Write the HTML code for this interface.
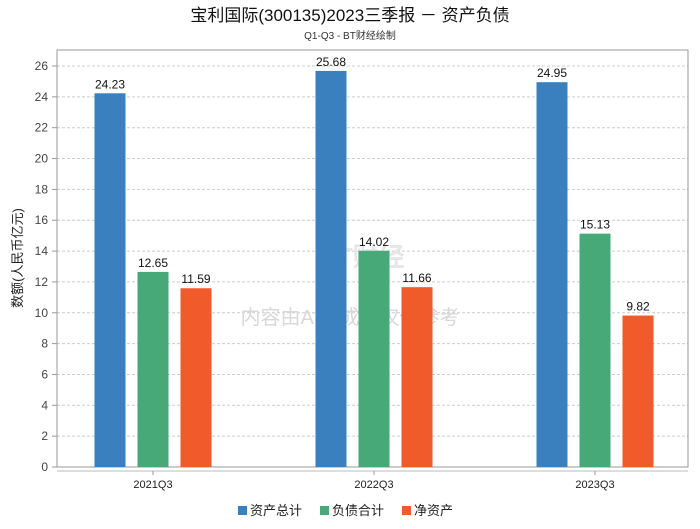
<!DOCTYPE html>
<html><head><meta charset="utf-8"><style>
body{margin:0;background:#fff;font-family:"Liberation Sans","Noto Sans CJK SC",sans-serif;}
svg text{font-family:"Liberation Sans","Noto Sans CJK SC",sans-serif;}
</style></head><body>
<svg id="c" width="700" height="524" xmlns="http://www.w3.org/2000/svg">
<text x="350" y="21" font-size="17" text-anchor="middle" fill="#111">宝利国际(300135)2023三季报 － 资产负债</text>
<text x="350" y="39" font-size="10" text-anchor="middle" fill="#333">Q1-Q3 - BT财经绘制</text>
<g id="grid"></g>
<rect x="57" y="50" width="631" height="417" fill="none" stroke="#999"/>
<line x1="57" y1="471" x2="688" y2="471" stroke="#bbb"/>
<text x="350" y="324" font-size="20" text-anchor="middle" fill="#d8d8d8">内容由AI生成，仅供参考</text>
<text x="318" y="266" font-size="26" fill="#e6e6e6" font-weight="bold">BT财经</text>
<g id="bars"></g>
<text transform="translate(22,258) rotate(-90)" font-size="13" text-anchor="middle" fill="#222">数额(人民币亿元)</text>
<g>
<rect x="238" y="506" width="9" height="9" fill="#3a80bf"/>
<text x="250" y="515" font-size="13" fill="#222">资产总计</text>
<rect x="320" y="506" width="9" height="9" fill="#46a977"/>
<text x="332" y="515" font-size="13" fill="#222">负债合计</text>
<rect x="402" y="506" width="9" height="9" fill="#f15a2a"/>
<text x="414" y="515" font-size="13" fill="#222">净资产</text>
</g>
</svg>
<script>
const categories=["2021Q3","2022Q3","2023Q3"];
const assets=[24.23,25.68,24.95];
const liabilities=[12.65,14.02,15.13];
const equity=[11.59,11.66,9.82];
const yTicks=[0,2,4,6,8,10,12,14,16,18,20,22,24,26];
const NS="http://www.w3.org/2000/svg";
function y(v){return 467-v*(401/26);}
function xc(i){return 153+i*221;}
function mk(t,a,p){const e=document.createElementNS(NS,t);for(const k in a)e.setAttribute(k,a[k]);p.appendChild(e);return e;}
const g=document.getElementById('grid'),b=document.getElementById('bars');
yTicks.forEach(v=>{
 if(v>0){const l=mk('line',{x1:57,x2:688,y1:y(v),y2:y(v),stroke:'#ccc','stroke-dasharray':'3,2'},g);
 
 }
 const tk=mk('line',{x1:52,x2:57,y1:y(v),y2:y(v),stroke:'#999'},g);
 
 
 const t=mk('text',{x:48,y:y(v)+4,'font-size':12,'text-anchor':'end',fill:'#444'},g);
 t.textContent=v;
 
 
});
const series=[[assets,'#3a80bf','assets'],[liabilities,'#46a977','liabilities'],[equity,'#f15a2a','equity']];
categories.forEach((c,i)=>{
 const tk=mk('line',{x1:xc(i),x2:xc(i),y1:471,y2:475,stroke:'#999'},b);
 
 
 const t=mk('text',{x:xc(i),y:488,'font-size':11,'text-anchor':'middle',fill:'#222'},b);
 t.textContent=c;
 
 
 series.forEach((s,j)=>{
  const v=s[0][i],cx=xc(i)+(j-1)*43;
  const r=mk('rect',{x:cx-15.5,y:y(v),width:31,height:467-y(v),fill:s[1]},b);
  
  
  const l=mk('text',{x:cx,y:y(v)-5,'font-size':12,'text-anchor':'middle',fill:'#111'},b);
  l.textContent=v.toFixed(2);
  
  
 });
});
</script>
</body></html>
